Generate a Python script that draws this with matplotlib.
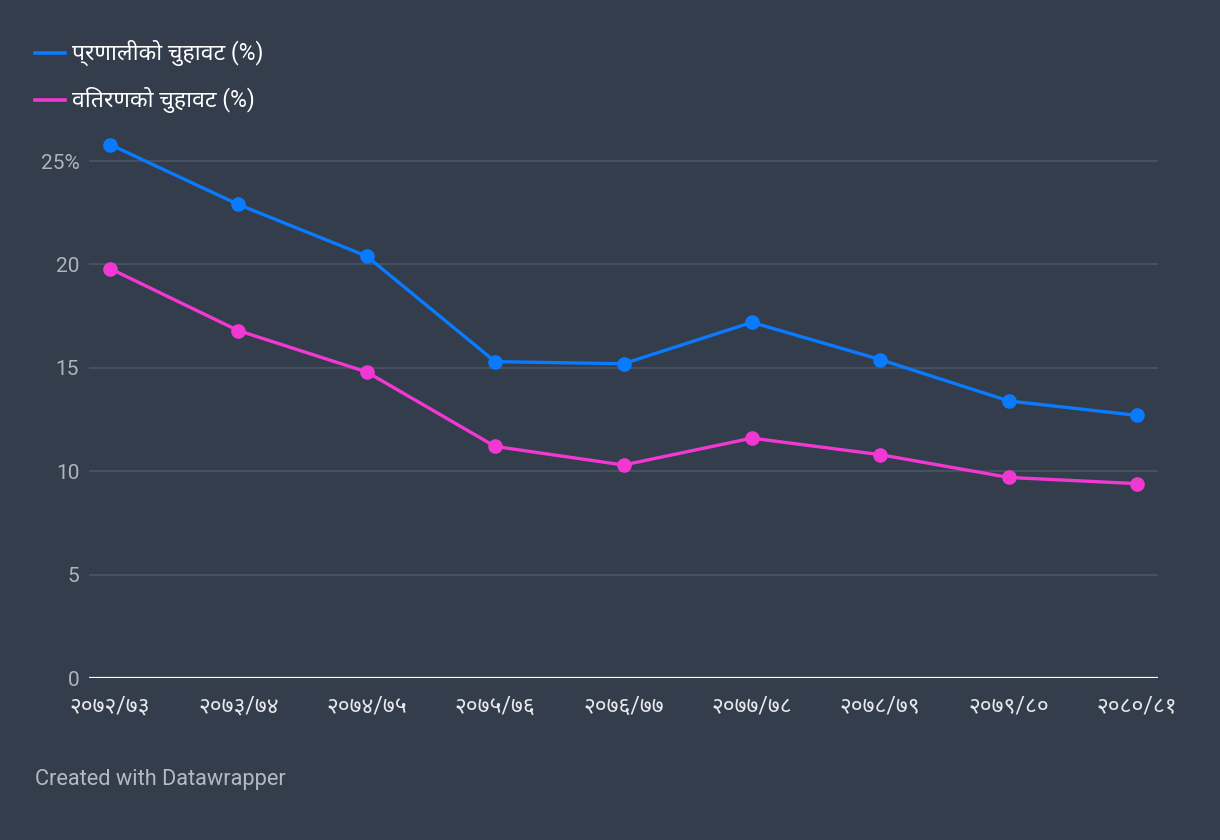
import matplotlib
matplotlib.use("Agg")
import matplotlib.pyplot as plt
from matplotlib import font_manager as fm

categories = ["२०७२/७३", "२०७३/७४", "२०७४/७५", "२०७५/७६", "२०७६/७७",
              "२०७७/७८", "२०७८/७९", "२०७९/८०", "२०८०/८१"]
system_leak = [25.8, 22.9, 20.4, 15.3, 15.2, 17.2, 15.4, 13.4, 12.7]
distribution_leak = [19.8, 16.8, 14.8, 11.2, 10.3, 11.6, 10.8, 9.7, 9.4]
series_names = ["प्रणालीको चुहावट (%)", "वितरणको चुहावट (%)"]
yticks = [0, 5, 10, 15, 20, 25]
ytick_labels = ["0", "5", "10", "15", "20", "25%"]
credit = "Created with Datawrapper"

# locate a Devanagari font (prefer Noto Sans Devanagari regular)
deva = None
cands = [p for p in fm.findSystemFonts() if "NotoSansDevanagari" in p.replace(" ", "")]
cands = [p for p in cands if "UI" not in p] or cands
pref = [p for p in cands if "Regular" in p or "[" in p] or cands
if pref:
    fm.fontManager.addfont(pref[0])
    deva = fm.FontProperties(fname=pref[0]).get_name()
family = ["Roboto"] + ([deva] if deva else []) + ["Noto Sans", "DejaVu Sans"]
plt.rcParams["font.family"] = family

BG = "#333d4c"
GRID = "#4b5564"
TICK = "#aeb4bc"
BLUE = "#0a7bff"
PINK = "#f238d3"

fig = plt.figure(figsize=(12.2, 8.4), dpi=100, facecolor=BG)
ax = fig.add_axes([89/1220, (840-678)/840, (1158-89)/1220, 0.640])
ax.set_facecolor(BG)

x = list(range(len(categories)))
ax.plot(x, system_leak, color=BLUE, lw=2.4, marker="o", ms=9.5, clip_on=False, zorder=4)
ax.plot(x, distribution_leak, color=PINK, lw=2.4, marker="o", ms=9.5, clip_on=False, zorder=4)

ax.set_ylim(0, 26)
ax.set_xlim(-21/128.375, 8 + 21/128.375)
ax.set_yticks(yticks)
ax.set_yticklabels(ytick_labels)
for yv in yticks[1:]:
    ax.axhline(yv, color=GRID, lw=1.2, zorder=1)
ax.axhline(0, color="white", lw=1.6, zorder=3)

ax.set_xticks(x)
ax.set_xticklabels(categories)
for s in ax.spines.values():
    s.set_visible(False)
ax.tick_params(axis="y", length=0, pad=7, labelsize=15, labelcolor=TICK)
ax.tick_params(axis="x", length=0, pad=12, labelsize=16.5, labelcolor="#e6e8eb")

# legend
for i, (name, col) in enumerate(zip(series_names, [BLUE, PINK])):
    yy = 1 - 53/840 - i * 47/840
    fig.add_artist(plt.Line2D([35/1220, 65/1220], [yy, yy], color=col, lw=2.6))
    fig.text(72/1220, yy, name, color="white", fontsize=16.5, va="center", ha="left")

fig.text(35/1220, 1 - 780/840, credit, color="#b5bac2", fontsize=15.7, va="center", ha="left")

fig.savefig("out.png", dpi=100, facecolor=BG)
